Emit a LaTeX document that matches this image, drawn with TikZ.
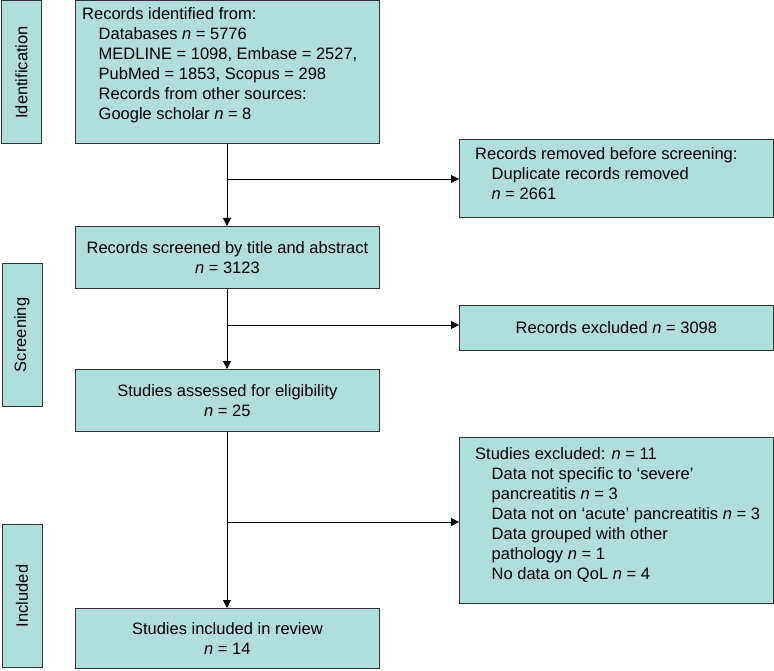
\documentclass[tikz,border=0pt]{standalone}
\usepackage{fontspec}
\setmainfont{Liberation Sans}
\usetikzlibrary{arrows.meta,positioning}
\definecolor{boxc}{HTML}{B0DEDA}
\begin{document}
\begin{tikzpicture}[x=1pt,y=-1pt,
  box/.style={draw=black!80,fill=boxc,line width=0.8pt,inner sep=0pt},
  txt/.style={font=\fontsize{16.5}{20}\selectfont,align=left,inner sep=0pt},
  ctxt/.style={font=\fontsize{16.5}{20}\selectfont,align=center,inner sep=0pt},
  arr/.style={-{Triangle[length=8pt,width=8pt]},line width=0.8pt},
  ln/.style={line width=0.8pt}]
\useasboundingbox (0,0) rectangle (774,671);
\newcommand{\ind}{\hspace*{1em}}
% side labels
\node[box,minimum width=40pt,minimum height=143pt,anchor=north west] (s1) at (1,0.5) {};
\node[ctxt,rotate=90] (s1t) at (s1.center) {Identification};
\node[box,minimum width=40pt,minimum height=143pt,anchor=north west] (s2) at (1.5,263) {};
\node[ctxt,rotate=90] (s2t) at (s2.center) {Screening};
\node[box,minimum width=40pt,minimum height=143pt,anchor=north west] (s3) at (1.5,524) {};
\node[ctxt,rotate=90] (s3t) at (s3.center) {Included};
% main boxes
\node[box,minimum width=304pt,minimum height=143pt,anchor=north west] (b1) at (75,0.5) {};
\node[txt,anchor=north west] (b1t) at (82,7) {Records identified from:\\
\ind Databases \textit{n} = 5776\\
\ind MEDLINE = 1098, Embase = 2527,\\
\ind PubMed = 1853, Scopus = 298\\
\ind Records from other sources:\\
\ind Google scholar \textit{n} = 8};
\node[box,minimum width=304pt,minimum height=62pt,anchor=north west] (b2) at (75,226) {};
\node[ctxt] (b2t) at (b2.center) {Records screened by title and abstract\\\textit{n} = 3123};
\node[box,minimum width=304pt,minimum height=62pt,anchor=north west] (b3) at (75,369) {};
\node[ctxt] (b3t) at (b3.center) {Studies assessed for eligibility\\\textit{n} = 25};
\node[box,minimum width=304pt,minimum height=60pt,anchor=north west] (b4) at (75,608) {};
\node[ctxt] (b4t) at (b4.center) {Studies included in review\\\textit{n} = 14};
% right boxes
\node[box,minimum width=314pt,minimum height=78pt,anchor=north west] (r1) at (459,139) {};
\node[txt,anchor=north west] (r1t) at (475,147) {Records removed before screening:\\
\ind Duplicate records removed\\
\ind \textit{n} = 2661};
\node[box,minimum width=314pt,minimum height=45pt,anchor=north west] (r2) at (459,305) {};
\node[ctxt] (r2t) at (r2.center) {Records excluded \textit{n} = 3098};
\node[box,minimum width=314pt,minimum height=166pt,anchor=north west] (r3) at (459,437) {};
\node[txt,anchor=north west] (r3t) at (475,447) {Studies excluded: \textit{n} = 11\\
\ind Data not specific to ‘severe’\\
\ind pancreatitis \textit{n} = 3\\
\ind Data not on ‘acute’ pancreatitis \textit{n} = 3\\
\ind Data grouped with other\\
\ind pathology \textit{n} = 1\\
\ind No data on QoL \textit{n} = 4};
% connectors
\coordinate (j1) at (227,179);
\coordinate (j2) at (227,325);
\coordinate (j3) at (227,522);
\draw[arr] (b1.south -| j1) -- (b2.north -| j1);
\draw[arr] (b2.south -| j2) -- (b3.north -| j2);
\draw[arr] (b3.south -| j3) -- (b4.north -| j3);
\draw[arr] (j1) -- (j1 -| r1.west);
\draw[arr] (j2) -- (j2 -| r2.west);
\draw[arr] (j3) -- (j3 -| r3.west);
\end{tikzpicture}
\end{document}
